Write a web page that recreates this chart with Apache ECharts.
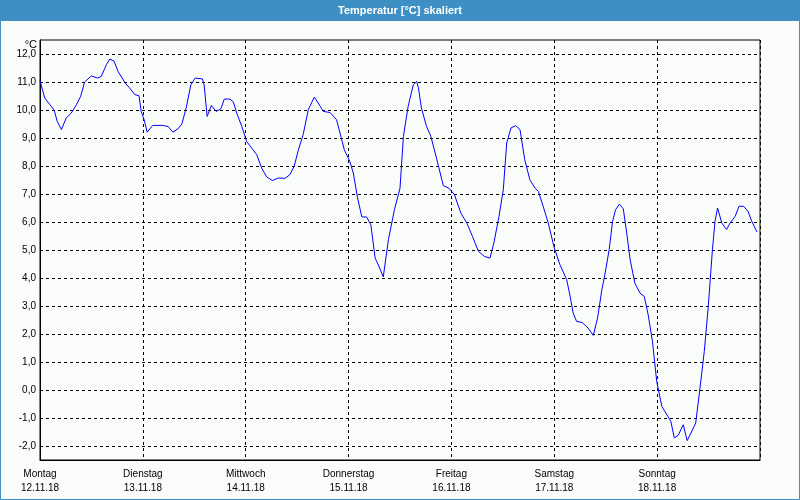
<!DOCTYPE html>
<html>
<head>
<meta charset="utf-8">
<script src="https://cdn.jsdelivr.net/npm/echarts@6/dist/echarts.min.js"></script>
<style>
html,body{margin:0;padding:0;background:#fafcfa;}
#chart{width:800px;height:500px;}
</style>
</head>
<body>
<div id="chart"></div>
<script>
// Hours since Monday 12.11.18 00:00
const hours = [0.0,1.1,2.3,3.3,4.0,5.0,6.1,7.3,8.5,9.5,10.4,12.0,13.4,14.3,15.5,16.3,17.3,18.2,19.9,20.9,22.1,23.1,23.6,24.3,25.0,26.3,28.6,29.9,31.0,32.2,33.1,34.1,35.2,36.2,37.9,38.3,39.0,40.0,41.1,42.2,43.0,44.3,45.1,45.9,47.1,48.2,49.4,50.6,51.7,52.9,54.2,55.6,57.2,58.3,59.3,60.3,61.4,62.6,64.0,64.9,66.1,67.7,69.2,70.0,71.0,72.3,73.1,74.1,75.1,76.2,77.2,78.2,79.1,80.1,81.3,82.7,84.0,84.8,85.9,87.1,87.9,88.3,89.0,90.2,91.2,92.6,94.1,95.4,96.7,98.2,99.6,100.9,102.3,103.7,105.0,105.9,107.1,108.1,108.9,109.9,111.0,112.0,113.1,114.3,115.5,116.3,117.4,118.6,120.0,121.3,122.9,123.7,124.4,125.2,126.5,127.9,129.1,130.1,131.1,131.8,132.8,133.6,134.3,135.2,136.1,136.9,137.7,138.8,140.0,141.0,141.9,142.9,143.9,145.1,146.5,147.2,148.0,148.9,150.1,151.0,152.0,153.0,154.0,155.0,155.9,156.9,157.5,158.1,159.1,160.2,161.0,162.2,163.1,164.2,165.2,166.1,167.3];
const temps = [11.05,10.43,10.19,10.0,9.6,9.3,9.71,9.89,10.19,10.49,11.0,11.22,11.14,11.2,11.62,11.82,11.74,11.38,10.96,10.79,10.55,10.51,9.95,9.65,9.21,9.45,9.45,9.41,9.21,9.33,9.5,10.07,10.9,11.14,11.11,10.9,9.77,10.16,9.95,10.04,10.39,10.39,10.29,9.89,9.41,8.88,8.64,8.40,7.93,7.61,7.48,7.57,7.56,7.69,7.99,8.58,9.12,10.01,10.46,10.25,9.95,9.91,9.65,9.18,8.58,8.16,7.75,6.86,6.18,6.18,5.90,4.71,4.41,4.04,5.37,6.44,7.21,9.06,10.13,10.90,11.02,10.79,10.07,9.41,9.06,8.23,7.30,7.21,6.98,6.32,5.96,5.49,4.95,4.77,4.71,5.25,6.20,7.15,8.82,9.36,9.44,9.30,8.23,7.51,7.21,7.09,6.56,5.96,5.07,4.48,3.94,3.34,2.75,2.45,2.41,2.21,1.95,2.57,3.58,4.12,5.01,6.02,6.44,6.64,6.47,5.61,4.65,3.82,3.46,3.34,2.69,1.74,0.31,-0.59,-0.94,-1.12,-1.71,-1.62,-1.24,-1.81,-1.50,-1.18,0.07,1.38,2.93,5.01,6.02,6.50,5.96,5.73,5.96,6.20,6.56,6.56,6.38,6.02,5.64];
const dayNames = ['Montag','Dienstag','Mittwoch','Donnerstag','Freitag','Samstag','Sonntag'];
const dayDates = ['12.11.18','13.11.18','14.11.18','15.11.18','16.11.18','17.11.18','18.11.18'];
const titleText = 'Temperatur [°C] skaliert';
const unitText = '°C';

const data = hours.map((h, i) => [h, temps[i]]);
const font = 'Liberation Sans';
const chart = echarts.init(document.getElementById('chart'), null, {renderer: 'canvas'});
chart.setOption({
  backgroundColor: '#fafcfa',
  animation: false,
  graphic: [
    {type: 'rect', shape: {x: 0.5, y: 0.5, width: 799, height: 499}, style: {fill: 'none', stroke: '#3d8fc4', lineWidth: 1}, z: 10},
    {type: 'rect', shape: {x: 0, y: 0, width: 800, height: 21}, style: {fill: '#3d8fc4'}, z: 11},
    {type: 'text', x: 400, y: 11, style: {text: titleText, fill: '#ffffff', font: 'bold 11px ' + font, textAlign: 'center', textVerticalAlign: 'middle'}, z: 12},
    {type: 'text', x: 37, y: 45, style: {text: unitText, fill: '#000', font: '11px ' + font, textAlign: 'right', textVerticalAlign: 'middle'}, z: 12}
  ],
  grid: {left: 40, right: 40, top: 40, bottom: 40, show: true, borderColor: '#000', borderWidth: 1, backgroundColor: 'transparent'},
  xAxis: {
    type: 'value', min: 0, max: 168, interval: 24,
    axisLine: {show: true, onZero: false, lineStyle: {color: '#000', width: 1}},
    axisTick: {show: false},
    splitLine: {show: true, lineStyle: {color: '#000', width: 1, type: [3, 3]}},
    axisLabel: {
      showMaxLabel: false, showMinLabel: true,
      margin: 7, lineHeight: 14, color: '#000', fontFamily: font, fontSize: 10,
      formatter: function (v) { const i = Math.round(v / 24); return i < dayNames.length ? dayNames[i] + '\n' + dayDates[i] : ''; }
    }
  },
  yAxis: {
    type: 'value', min: -2.5, max: 12.5, interval: 0.5,
    axisLine: {show: true, onZero: false, lineStyle: {color: '#000', width: 1}},
    axisTick: {show: false},
    splitLine: {show: true, lineStyle: {color: ['rgba(0,0,0,0)', '#000'], width: 1, type: [3, 3]}},
    axisLabel: {
      showMinLabel: false, showMaxLabel: false,
      margin: 4, color: '#000', fontFamily: font, fontSize: 10,
      formatter: function (v) { return Math.abs(v - Math.round(v)) < 1e-6 ? v.toFixed(1).replace('.', ',') : ''; }
    }
  },
  series: [{
    type: 'line', data: data, showSymbol: false, symbol: 'none',
    lineStyle: {color: '#0000ff', width: 1}, z: 5
  }]
});
</script>
</body>
</html>
